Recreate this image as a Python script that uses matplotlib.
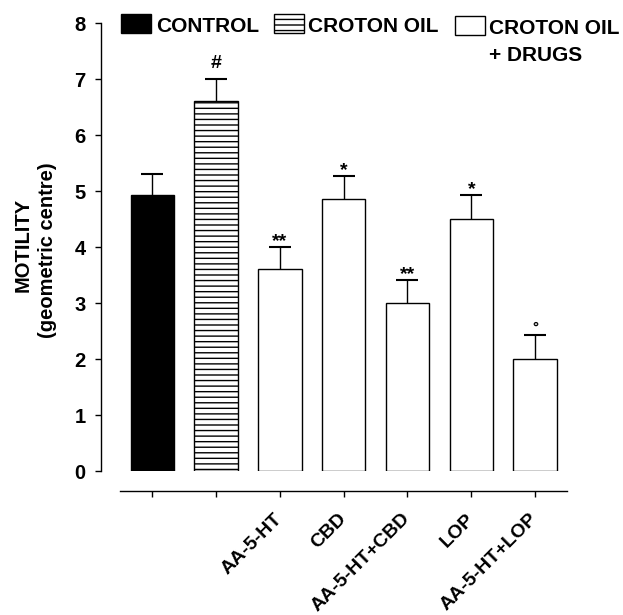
import matplotlib
matplotlib.use('Agg')
import matplotlib.pyplot as plt
from matplotlib.patches import Rectangle
from matplotlib.transforms import ScaledTranslation

plt.rcParams['font.family'] = ['Liberation Sans', 'DejaVu Sans']
plt.rcParams['font.weight'] = 'bold'
plt.rcParams['hatch.linewidth'] = 1.0

# data
groups = ['', '', 'AA-5-HT', 'CBD', 'AA-5-HT+CBD', 'LOP', 'AA-5-HT+LOP']
motility = [4.93, 6.60, 3.61, 4.86, 3.00, 4.50, 2.00]
sem = [0.38, 0.40, 0.39, 0.40, 0.41, 0.43, 0.43]
marks = ['', '#', '**', '*', '**', '*', '°']
kind = ['control', 'croton', 'drug', 'drug', 'drug', 'drug', 'drug']

styles = {
    'control': dict(facecolor='black', hatch=None),
    'croton': dict(facecolor='white', hatch='---'),
    'drug': dict(facecolor='white', hatch=None),
}

fig = plt.figure(figsize=(6.23, 6.15), dpi=100)
ax = fig.add_axes([0.1616, 0.2341, 0.7587, 0.7285])

x = list(range(len(groups)))
for i in x:
    st = styles[kind[i]]
    ax.bar(i, motility[i], width=0.68, color=st['facecolor'], edgecolor='black',
           linewidth=1.0, hatch=st['hatch'], zorder=2)
# symmetric bars drawn behind the (opaque) columns, so only the upper half shows
ax.errorbar(x, motility, yerr=sem, fmt='none', ecolor='black',
            elinewidth=1.0, capsize=7.8, capthick=1.5, zorder=1)

for i in x:
    if marks[i] == '#':
        ax.text(i, motility[i] + sem[i] + 0.2, marks[i], ha='center', va='baseline',
                fontsize=14, fontweight='bold', clip_on=False)
    elif marks[i] == '°':
        ax.text(i, motility[i] + sem[i] + 0.06, marks[i], ha='center', va='baseline',
                fontsize=11, fontweight='bold', clip_on=False)
    elif marks[i]:
        ax.text(i, motility[i] + sem[i] + 0.02, marks[i], ha='center', va='baseline',
                fontsize=14, fontweight='bold', clip_on=False)

ax.set_xlim(-0.81, 6.6)
ax.set_ylim(0, 8)
for s in ['top', 'right']:
    ax.spines[s].set_visible(False)
ax.spines['left'].set_bounds(0, 8)
ax.spines['bottom'].set_bounds(-0.5, 6.5)
ax.spines['bottom'].set_position(('outward', 14.4))
ax.spines['left'].set_linewidth(1.0)
ax.spines['bottom'].set_linewidth(1.0)

ax.set_yticks(range(0, 9))
ax.tick_params(axis='y', direction='out', length=4.3, width=1, labelsize=14.5, pad=6.5)
ax.set_xticks(x)
ax.set_xticklabels(groups, rotation=45, ha='right', rotation_mode='anchor', fontsize=14)
ax.tick_params(axis='x', direction='out', length=4.3, width=1, pad=8)
shift = ScaledTranslation(-6 / 100, -2 / 100, fig.dpi_scale_trans)
for lab in ax.get_xticklabels():
    lab.set_transform(lab.get_transform() + shift)
for lab in ax.get_yticklabels() + ax.get_xticklabels():
    lab.set_fontweight('bold')

fig.text(0.0377, 0.6016, 'MOTILITY', rotation=90, ha='center', va='center',
         fontsize=14.5, fontweight='bold')
fig.text(0.077, 0.5935, '(geometric centre)', rotation=90, ha='center', va='center',
         fontsize=14.5, fontweight='bold')

# legend drawn along the top
legend_items = [('control', ['CONTROL'], 0.1942, 0.9468, 0.25, 0.9485),
                ('croton', ['CROTON OIL'], 0.4398, 0.9468, 0.4944, 0.9485),
                ('drug', ['CROTON OIL', '+ DRUGS'], 0.7303, 0.943, 0.785, 0.9447)]
for k, lines, bx, by, tx, ty in legend_items:
    st = styles[k]
    fig.patches.append(Rectangle((bx, by), 0.0482, 0.0304, transform=fig.transFigure,
                                 facecolor=st['facecolor'], edgecolor='black',
                                 linewidth=1.0, hatch=st['hatch']))
    for j, line in enumerate(lines):
        fig.text(tx, ty - j * 0.0439, line, ha='left', va='baseline', fontsize=15,
                 fontweight='bold')

fig.savefig('out.png', dpi=100)
